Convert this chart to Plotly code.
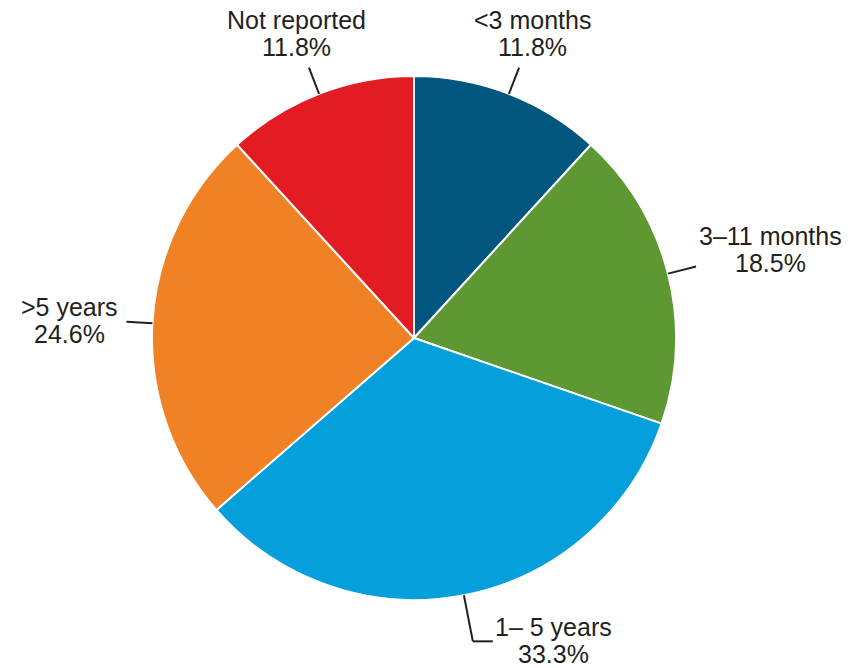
import numpy as np
import plotly.graph_objects as go

# Duration categories, clockwise from 12 o'clock
labels = ['<3 months', '3\u201311 months', '1\u2013 5 years', '>5 years', 'Not reported']
values = [11.8, 18.5, 33.3, 24.6, 11.8]
colors = ['#00567f', '#5e9833', '#059fdb', '#f08125', '#e31b23']

W, H = 854, 668
cx, cy, r = 414, 338, 262
line_gap = 26.5

# label placement: (leader length, elbow length, text centre dx, text centre dy)
placement = {
    '<3 months': (28, 0, 13, -34),
    '3\u201311 months': (29, 0, 74, -17),
    '1\u2013 5 years': (47, 20, 61, -1),
    '>5 years': (26, 0, -57, -1),
    'Not reported': (28, 0, -12, -34),
}


def px(x):
    return x / W


def py(y):
    return 1 - y / H


fig = go.Figure(
    go.Pie(
        labels=labels,
        values=values,
        sort=False,
        direction='clockwise',
        rotation=0,
        marker=dict(colors=colors, line=dict(color='white', width=2)),
        textinfo='none',
        hoverinfo='label+percent',
        showlegend=False,
        domain=dict(x=[px(cx - r), px(cx + r)], y=[py(cy + r), py(cy - r)]),
    )
)

total = sum(values)
cum = np.cumsum([0] + values[:-1])
for lab, val, start in zip(labels, values, cum):
    ang = np.deg2rad((start + val / 2) / total * 360)
    lead, elbow, dx, dy = placement[lab]
    x0 = cx + r * np.sin(ang)
    y0 = cy - r * np.cos(ang)
    x1 = cx + (r + lead) * np.sin(ang)
    y1 = cy - (r + lead) * np.cos(ang)
    fig.add_shape(type='line', xref='paper', yref='paper',
                  x0=px(x0), y0=py(y0), x1=px(x1), y1=py(y1),
                  line=dict(color='#231f20', width=2))
    if elbow:
        fig.add_shape(type='line', xref='paper', yref='paper',
                      x0=px(x1), y0=py(y1), x1=px(x1 + elbow), y1=py(y1),
                      line=dict(color='#231f20', width=2))
        x1 += elbow
    tx, ty = x1 + dx, y1 + dy
    for k, txt in enumerate([lab, f'{val:.1f}%']):
        fig.add_annotation(
            x=px(tx), y=py(ty + (k - 0.5) * line_gap), xref='paper', yref='paper',
            text=txt, showarrow=False,
            xanchor='center', yanchor='middle',
            font=dict(size=25, color='#231f20'),
        )

fig.update_layout(
    width=W, height=H,
    margin=dict(l=0, r=0, t=0, b=0),
    paper_bgcolor='white',
    font=dict(family='Liberation Sans, Arial, sans-serif'),
)

fig.write_html('out.html', config=dict(displayModeBar=False),
               post_script="document.body.style.margin='0';")
